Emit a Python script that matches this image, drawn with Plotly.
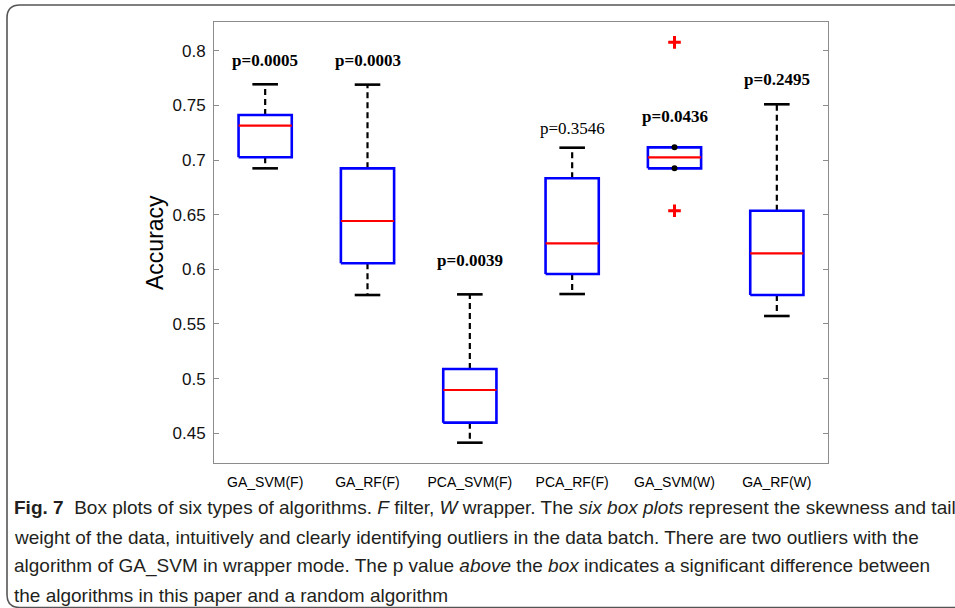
import plotly.graph_objects as go

# ---------------- data ----------------
categories = ["GA_SVM(F)", "GA_RF(F)", "PCA_SVM(F)", "PCA_RF(F)", "GA_SVM(W)", "GA_RF(W)"]
upper_whisker = [0.7693, 0.7690, 0.5771, 0.7113, 0.7116, 0.7510]
q3 = [0.7412, 0.6924, 0.5088, 0.6833, 0.7116, 0.6536]
median = [0.7314, 0.6442, 0.4896, 0.6238, 0.7025, 0.6146]
q1 = [0.7025, 0.6055, 0.4597, 0.5957, 0.6924, 0.5765]
lower_whisker = [0.6924, 0.5765, 0.4414, 0.5774, 0.6924, 0.5573]
outlier_cat = ["GA_SVM(W)", "GA_SVM(W)"]
outlier_val = [0.8077, 0.6536]
p_labels = ["p=0.0005", "p=0.0003", "p=0.0039", "p=0.3546", "p=0.0436", "p=0.2495"]
p_bold = [True, True, True, False, True, True]
p_label_y = [0.7915, 0.7915, 0.6085, 0.7290, 0.7396, 0.7738]
y_ticks = [0.45, 0.5, 0.55, 0.6, 0.65, 0.7, 0.75, 0.8]
y_tick_text = ["0.45", "0.5", "0.55", "0.6", "0.65", "0.7", "0.75", "0.8"]

caption_lines = [
    "<b>Fig. 7</b>\u00a0\u00a0Box plots of six types of algorithms. <i>F</i> filter, <i>W</i> wrapper. The <i>six box plots</i> represent the skewness and tail",
    "weight of the data, intuitively and clearly identifying outliers in the data batch. There are two outliers with the",
    "algorithm of GA_SVM in wrapper mode. The p value <i>above</i> the <i>box</i> indicates a significant difference between",
    "the algorithms in this paper and a random algorithm",
]

# ---------------- layout geometry ----------------
W, H = 955, 608
L, R, T, B = 214, 828, 22, 463
HALF_BOX = 0.26
HALF_CAP = 0.125


def fx(px):
    return (px - L) / (R - L)


def fy(py):
    return (B - py) / (B - T)


xpos = {c: i + 1 for i, c in enumerate(categories)}

box_x, box_y = [], []
med_x, med_y = [], []
wh_x, wh_y = [], []
cap_x, cap_y = [], []
dot_x, dot_y = [], []
for i, c in enumerate(categories):
    x = xpos[c]
    box_x += [x - HALF_BOX, x + HALF_BOX, x + HALF_BOX, x - HALF_BOX, x - HALF_BOX, None]
    box_y += [q1[i], q1[i], q3[i], q3[i], q1[i], None]
    med_x += [x - HALF_BOX, x + HALF_BOX, None]
    med_y += [median[i], median[i], None]
    for end, edge in ((upper_whisker[i], q3[i]), (lower_whisker[i], q1[i])):
        if abs(end - edge) > 1e-9:
            wh_x += [x, x, None]
            wh_y += [edge, end, None]
            cap_x += [x - HALF_CAP, x + HALF_CAP, None]
            cap_y += [end, end, None]
        else:
            dot_x.append(x)
            dot_y.append(end)

fig = go.Figure()
fig.add_trace(go.Scatter(x=wh_x, y=wh_y, mode="lines",
                         line=dict(color="black", width=2.2, dash="6px,4px"), hoverinfo="skip"))
fig.add_trace(go.Scatter(x=cap_x, y=cap_y, mode="lines",
                         line=dict(color="black", width=2.6), hoverinfo="skip"))
fig.add_trace(go.Scatter(x=box_x, y=box_y, mode="lines",
                         line=dict(color="#0000ff", width=2.6), hoverinfo="skip"))
fig.add_trace(go.Scatter(x=med_x, y=med_y, mode="lines",
                         line=dict(color="#ff0000", width=2.2), hoverinfo="skip"))
fig.add_trace(go.Scatter(x=dot_x, y=dot_y, mode="markers",
                         marker=dict(color="black", size=6, symbol="circle"), hoverinfo="skip"))
fig.add_trace(go.Scatter(x=[xpos[c] for c in outlier_cat], y=outlier_val, mode="markers",
                         marker=dict(symbol="cross-thin", size=9, line=dict(color="#ff0000", width=3)),
                         hoverinfo="skip"))

annotations = []
for i, c in enumerate(categories):
    txt = f"<b>{p_labels[i]}</b>" if p_bold[i] else p_labels[i]
    annotations.append(dict(x=xpos[c], y=p_label_y[i], xref="x", yref="y", text=txt,
                            showarrow=False, xanchor="center", yanchor="middle",
                            font=dict(family="Liberation Serif, Times New Roman, serif", size=17, color="black")))

annotations.append(dict(x=fx(155), y=fy(243), xref="paper", yref="paper", text="Accuracy",
                        textangle=-90, showarrow=False, xanchor="center", yanchor="middle",
                        font=dict(family="Liberation Sans, Arial, sans-serif", size=23, color="black")))

cap_centers = [508, 537, 566, 595]
for line, cy in zip(caption_lines, cap_centers):
    annotations.append(dict(x=fx(12), y=fy(cy), xref="paper", yref="paper", text=line,
                            showarrow=False, xanchor="left", yanchor="middle", align="left",
                            font=dict(family="Liberation Sans, Arial, sans-serif",
                                      size=19, color="#231f20")))

# rounded frame around the figure
r = 13
fl, ft, fb, fr = 7, 5, 607.5, 975
frame_path = (f"M {fx(fr)},{fy(ft)} L {fx(fl + r)},{fy(ft)} Q {fx(fl)},{fy(ft)} {fx(fl)},{fy(ft + r)} "
              f"L {fx(fl)},{fy(fb - r)} Q {fx(fl)},{fy(fb)} {fx(fl + r)},{fy(fb)} L {fx(fr)},{fy(fb)}")

fig.update_layout(
    width=W, height=H,
    margin=dict(l=L, r=W - R, t=T, b=H - B, pad=0),
    paper_bgcolor="white", plot_bgcolor="white",
    showlegend=False, hovermode=False,
    annotations=annotations,
    shapes=[dict(type="path", path=frame_path, xref="paper", yref="paper",
                 line=dict(color="#555555", width=1.6), layer="above")],
    xaxis=dict(range=[0.5, 6.5], tickvals=[xpos[c] for c in categories], ticktext=categories,
               ticks="", showgrid=False, zeroline=False, showline=True, mirror=True,
               linecolor="#8c8c8c", linewidth=1, ticklabelstandoff=6,
               tickfont=dict(family="Liberation Sans, Arial, sans-serif",
                             size=14, color="black")),
    yaxis=dict(range=[0.4228, 0.8263], tickvals=y_ticks, ticktext=y_tick_text,
               ticks="inside", ticklen=5, tickcolor="#8c8c8c", tickwidth=1,
               showgrid=False, zeroline=False, showline=True, mirror="ticks",
               linecolor="#8c8c8c", linewidth=1, ticklabelstandoff=4,
               tickfont=dict(family="Liberation Sans, Arial, sans-serif", size=17, color="#111111")),
)

fig.write_html("out.html", config={"displayModeBar": False},
               post_script="document.body.style.margin='0px';")
